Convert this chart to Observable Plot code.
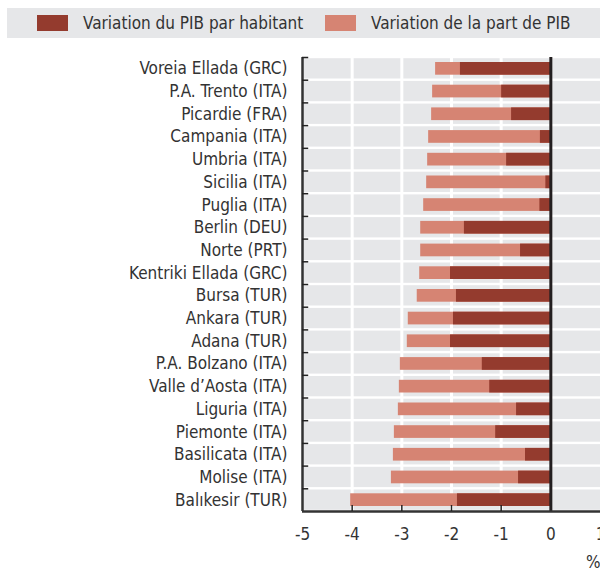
<!DOCTYPE html>
<html>
<head>
<meta charset="utf-8">
<script src="https://cdn.jsdelivr.net/npm/d3@7"></script>
<script src="https://cdn.jsdelivr.net/npm/@observablehq/plot@0.6"></script>
<style>
  body { margin: 0; background: #fff; font-family: "Liberation Sans Narrow", "Arial Narrow", "DejaVu Sans Condensed", sans-serif; color: #333; }
  #wrap { position: relative; width: 600px; height: 570px; overflow: hidden; }
  #legend { position: absolute; left: 7px; top: 8px; width: 593px; height: 30px; background: #e6e7e9; }
  .sw { position: absolute; top: 7px; width: 31px; height: 16px; }
  .lt { position: absolute; top: 4px; font-size: 17px; line-height: 22px; color: #333; white-space: nowrap; }
  #chart { position: absolute; left: 0; top: 0; }
</style>
</head>
<body>
<div id="wrap">
  <div id="chart"></div>
  <div id="legend"></div>
</div>
<script>
const regions = [
  "Voreia Ellada (GRC)", "P.A. Trento (ITA)", "Picardie (FRA)", "Campania (ITA)",
  "Umbria (ITA)", "Sicilia (ITA)", "Puglia (ITA)", "Berlin (DEU)", "Norte (PRT)",
  "Kentriki Ellada (GRC)", "Bursa (TUR)", "Ankara (TUR)", "Adana (TUR)",
  "P.A. Bolzano (ITA)", "Valle d\u2019Aosta (ITA)", "Liguria (ITA)", "Piemonte (ITA)",
  "Basilicata (ITA)", "Molise (ITA)", "Bal\u0131kesir (TUR)"
];
// Variation du PIB par habitant (dark)
const pibHabitant = [-1.82, -0.99, -0.79, -0.21, -0.89, -0.10, -0.22, -1.74, -0.61,
  -2.02, -1.90, -1.96, -2.02, -1.38, -1.23, -0.69, -1.11, -0.51, -0.65, -1.88];
// Variation de la part de PIB (salmon)
const partPib = [-2.32, -2.38, -2.40, -2.46, -2.48, -2.50, -2.56, -2.62, -2.62,
  -2.64, -2.69, -2.87, -2.89, -3.03, -3.05, -3.07, -3.15, -3.17, -3.21, -4.03];
const xTicks = [-5, -4, -3, -2, -1, 0, 1];
const seriesNames = ["Variation du PIB par habitant", "Variation de la part de PIB"];
const colors = ["#943b2e", "#d68473"];

const data = regions.map((r, i) => ({region: r, hab: pibHabitant[i], part: partPib[i]}));

const marginTop = 57, marginBottom = 59, H = 570;
const step = (H - marginTop - marginBottom) / regions.length;
const font = "'Liberation Sans Narrow', 'Arial Narrow', 'DejaVu Sans Condensed', sans-serif";

const chart = Plot.plot({
  width: 600,
  height: H,
  marginTop, marginBottom,
  marginLeft: 302,
  marginRight: 0,
  style: {fontFamily: font, fontSize: "17px", color: "#333", background: "transparent"},
  x: {domain: [-5, 1]},
  y: {domain: regions, padding: 0, round: false},
  marks: [
    // background rows (white separators between)
    Plot.barX(regions, {y: d => d, x1: -5, x2: 1, fill: "#e6e7e9", insetTop: 1.2, insetBottom: 1.2}),
    Plot.ruleX([-4, -3, -2, -1], {stroke: "#fff", strokeWidth: 3}),
    Plot.barX(data, {y: "region", x1: 0, x2: "part", fill: colors[1], insetTop: 5, insetBottom: 5}),
    Plot.barX(data, {y: "region", x1: 0, x2: "hab", fill: colors[0], insetTop: 5, insetBottom: 5}),
    // left axis line and ticks at row boundaries
    Plot.ruleX([-5], {stroke: "#333", strokeWidth: 2.5}),
    Plot.ruleY(regions, {y: d => d, x1: -5, x2: -4.875, dy: -step / 2, stroke: "#222", strokeWidth: 1.5}),
    // zero line
    Plot.ruleX([0], {stroke: "#231f20", strokeWidth: 3}),
    // bottom axis line
    Plot.ruleY([regions[regions.length - 1]], {x1: -5, x2: 1, dy: step / 2, stroke: "#333", strokeWidth: 2.5}),
    Plot.axisX([-4, -3, -2, -1], {tickSize: 6, dy: -6, text: null, stroke: "#222", strokeWidth: 1.5, label: null}),
    Plot.axisX(xTicks, {tickSize: 0, tickPadding: 16, tickFormat: d => d, fill: "#333", fontSize: 17, label: null}),
    Plot.axisY({tickSize: 0, tickPadding: 15, fill: "#333", fontSize: 17, label: null}),
    Plot.text(["%"], {frameAnchor: "bottom-right", dy: 56, textAnchor: "end", fill: "#333", fontSize: 17})
  ]
});
document.getElementById("chart").appendChild(chart);

const legend = document.getElementById("legend");
const swX = [30, 318], txX = [76, 364];
seriesNames.forEach((name, i) => {
  const s = document.createElement("div");
  s.className = "sw"; s.style.left = swX[i] + "px"; s.style.background = colors[i];
  legend.appendChild(s);
  const t = document.createElement("div");
  t.className = "lt"; t.style.left = txX[i] + "px"; t.textContent = name;
  legend.appendChild(t);
});
</script>
</body>
</html>
